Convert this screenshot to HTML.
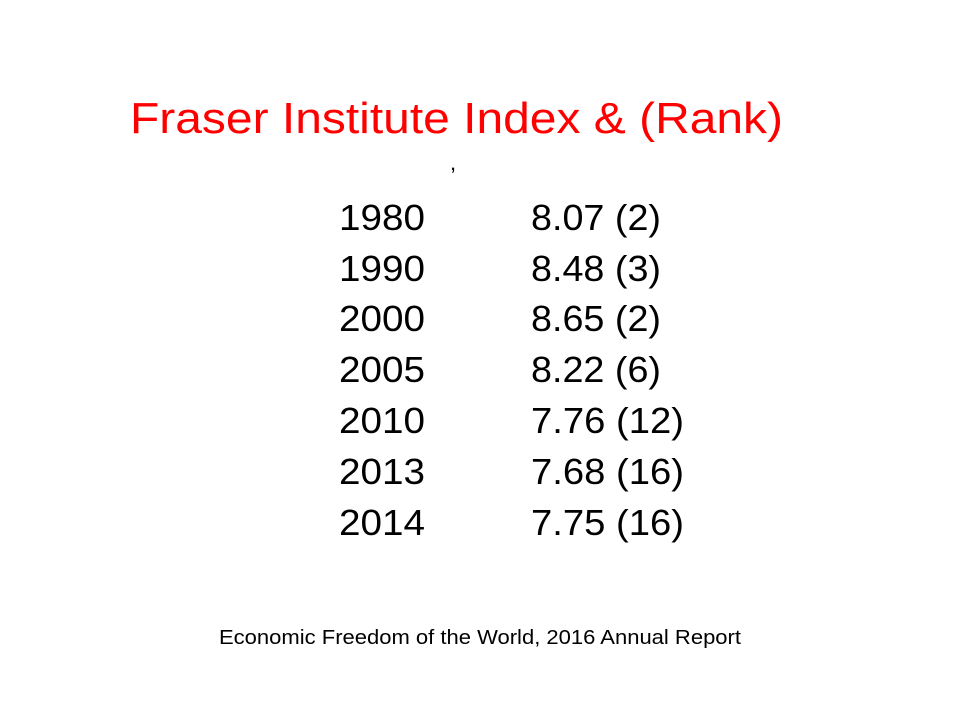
<!DOCTYPE html>
<html><head><meta charset="utf-8"><style>
html,body{margin:0;padding:0;background:#fff;width:960px;height:720px;overflow:hidden}
svg{display:block}
text{font-family:"Liberation Sans",sans-serif}
</style></head><body>
<svg width="960" height="720" viewBox="0 0 960 720" xmlns="http://www.w3.org/2000/svg">
<rect width="960" height="720" fill="#fff"/>
<text x="130" y="133" font-size="44" fill="#ff0000" textLength="653" lengthAdjust="spacingAndGlyphs">Fraser Institute Index &amp; (Rank)</text>
<text x="450" y="170" font-size="22" fill="#000">,</text>
<g font-size="36" fill="#000">
<text x="339" y="230" textLength="86" lengthAdjust="spacingAndGlyphs">1980</text>
<text x="531" y="230" textLength="130" lengthAdjust="spacingAndGlyphs">8.07 (2)</text>
<text x="339" y="281" textLength="86" lengthAdjust="spacingAndGlyphs">1990</text>
<text x="531" y="281" textLength="130" lengthAdjust="spacingAndGlyphs">8.48 (3)</text>
<text x="339" y="331" textLength="86" lengthAdjust="spacingAndGlyphs">2000</text>
<text x="531" y="331" textLength="130" lengthAdjust="spacingAndGlyphs">8.65 (2)</text>
<text x="339" y="382" textLength="86" lengthAdjust="spacingAndGlyphs">2005</text>
<text x="531" y="382" textLength="130" lengthAdjust="spacingAndGlyphs">8.22 (6)</text>
<text x="339" y="433" textLength="86" lengthAdjust="spacingAndGlyphs">2010</text>
<text x="531" y="433" textLength="153" lengthAdjust="spacingAndGlyphs">7.76 (12)</text>
<text x="339" y="484" textLength="86" lengthAdjust="spacingAndGlyphs">2013</text>
<text x="531" y="484" textLength="153" lengthAdjust="spacingAndGlyphs">7.68 (16)</text>
<text x="339" y="535" textLength="86" lengthAdjust="spacingAndGlyphs">2014</text>
<text x="531" y="535" textLength="153" lengthAdjust="spacingAndGlyphs">7.75 (16)</text>
</g>
<text x="219" y="644" font-size="20" fill="#000" textLength="522" lengthAdjust="spacingAndGlyphs">Economic Freedom of the World, 2016 Annual Report</text>
</svg>
</body></html>
